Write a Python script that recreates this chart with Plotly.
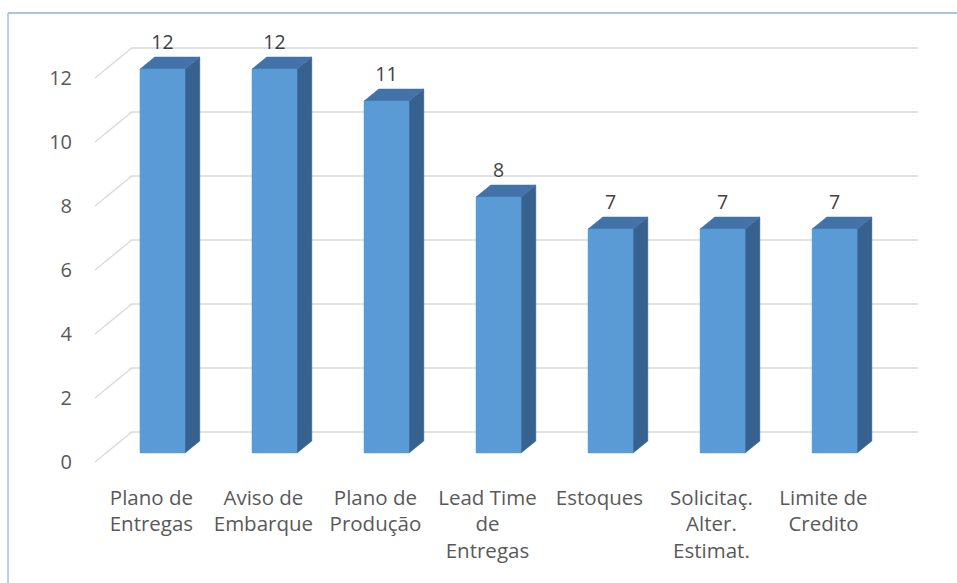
import plotly.graph_objects as go

categories = ["Plano de<br>Entregas", "Aviso de<br>Embarque", "Plano de<br>Produção",
              "Lead Time<br>de<br>Entregas", "Estoques", "Solicitaç.<br>Alter.<br>Estimat.",
              "Limite de<br>Credito"]
values = [12, 12, 11, 8, 7, 7, 7]
y_ticks = [0, 2, 4, 6, 8, 10, 12]

# pseudo-3D geometry (in data units)
DX = 0.330   # x shift per unit depth
DY = 0.9375  # y shift per unit depth
D_FRONT, D_BACK = 0.3, 0.7
HALF_W = 0.201
X_LEFT = -0.504
X_RIGHT_BACK = 6.845

FRONT = "#5B9BD5"
SIDE = "#37618F"
TOP = "#4273A8"
GRID = "#D9D9D9"
TXT = "#595959"
FONT = "Open Sans"

fig = go.Figure()

# gridlines: back wall + left wall diagonal
for t in y_ticks:
    fig.add_trace(go.Scatter(
        x=[X_LEFT, X_LEFT + DX, X_RIGHT_BACK],
        y=[t, t + DY, t + DY],
        mode="lines", line=dict(color=GRID, width=1.3),
        hoverinfo="skip", showlegend=False))

def poly(xs, ys, color):
    fig.add_trace(go.Scatter(x=xs + [xs[0]], y=ys + [ys[0]], mode="lines", fill="toself",
                             fillcolor=color, line=dict(color=color, width=0.5),
                             hoverinfo="skip", showlegend=False))

lab_x, lab_y = [], []
for i, v in enumerate(values):
    xf = i + D_FRONT * DX
    yf = D_FRONT * DY
    xl, xr = xf - HALF_W, xf + HALF_W
    depth = D_BACK - D_FRONT
    ddx, ddy = depth * DX, depth * DY
    # side face
    poly([xr, xr + ddx, xr + ddx, xr], [yf, yf + ddy, yf + v + ddy, yf + v], SIDE)
    # top face
    poly([xl, xr, xr + ddx, xl + ddx], [yf + v, yf + v, yf + v + ddy, yf + v + ddy], TOP)
    # front face
    poly([xl, xr, xr, xl], [yf, yf, yf + v, yf + v], FRONT)
    lab_x.append(xf)
    lab_y.append(v + D_BACK * DY + 0.1)

fig.add_trace(go.Scatter(x=lab_x, y=lab_y, mode="text", text=[str(v) for v in values],
                         textposition="top center",
                         textfont=dict(family=FONT, size=19.5, color="#404040"),
                         hoverinfo="skip", showlegend=False))

fig.update_layout(
    width=957, height=583,
    margin=dict(l=88, r=27, t=30, b=103),
    paper_bgcolor="white", plot_bgcolor="white",
    showlegend=False,
    xaxis=dict(range=[-0.566, 6.951], tickmode="array", tickvals=list(range(len(categories))),
               ticktext=categories, showgrid=False, zeroline=False, showline=False,
               ticks="", tickfont=dict(family=FONT, size=20.5, color=TXT), ticklabelstandoff=3),
    yaxis=dict(range=[-0.5625, 13.5], tickmode="array", tickvals=y_ticks,
               ticktext=[str(t) for t in y_ticks], showgrid=False, zeroline=False,
               showline=False, ticks="", tickfont=dict(family=FONT, size=20, color=TXT),
               ticklabelstandoff=15),
    shapes=[
        dict(type="line", xref="paper", yref="paper", x0=-0.095, x1=1.1, y0=1.0378, y1=1.0378,
             line=dict(color="#8FB0CC", width=1.5)),
        dict(type="line", xref="paper", yref="paper", x0=-0.095, x1=-0.095, y0=1.0378, y1=-0.5,
             line=dict(color="#9DC3E6", width=1.5)),
    ],
)

fig.write_html("out.html")
